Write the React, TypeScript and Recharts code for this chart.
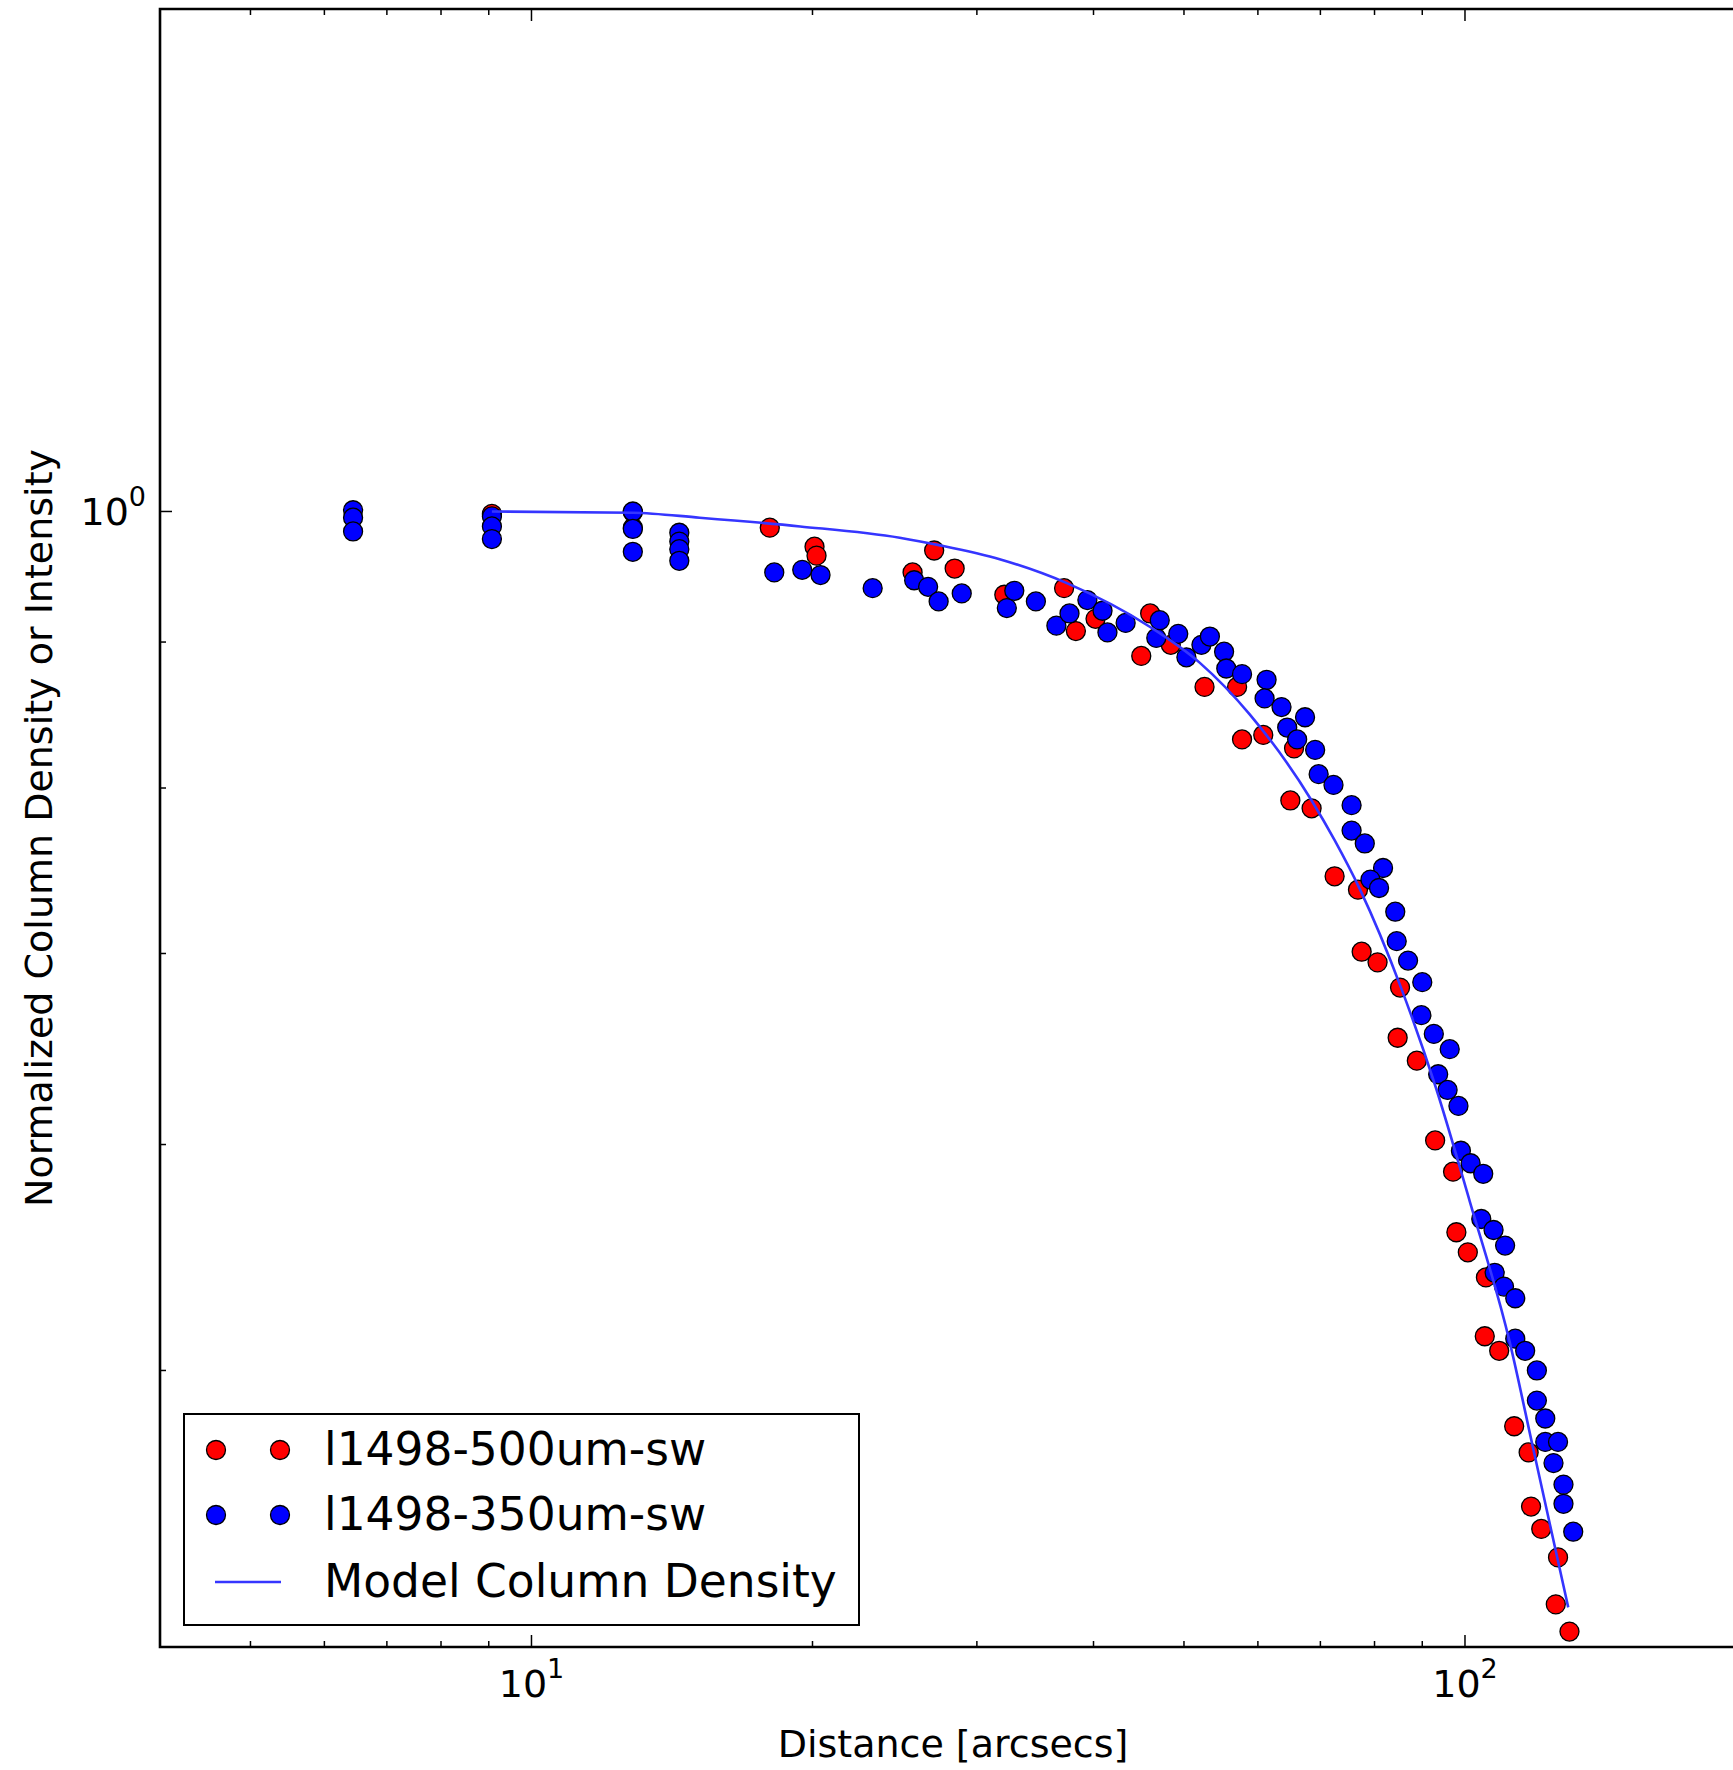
import { ScatterChart, Scatter, XAxis, YAxis, ReferenceArea, Legend } from 'recharts';

const RED_NAME = 'l1498-500um-sw';
const BLUE_NAME = 'l1498-350um-sw';
const MODEL_NAME = 'Model Column Density';

// distance [arcsec], normalized intensity
const red500 = [
  { x: 9.07, y: 0.998 }, { x: 12.84, y: 0.9995 }, { x: 12.84, y: 0.987 },
  { x: 18.0, y: 0.987 }, { x: 20.1, y: 0.972 }, { x: 20.2, y: 0.965 },
  { x: 25.6, y: 0.952 }, { x: 27.0, y: 0.969 }, { x: 28.4, y: 0.955 },
  { x: 32.1, y: 0.935 }, { x: 37.2, y: 0.94 }, { x: 38.3, y: 0.908 },
  { x: 40.2, y: 0.917 }, { x: 45.0, y: 0.89 }, { x: 46.0, y: 0.921 },
  { x: 48.4, y: 0.898 }, { x: 52.6, y: 0.868 }, { x: 57.0, y: 0.868 },
  { x: 57.7, y: 0.832 }, { x: 60.8, y: 0.835 }, { x: 65.6, y: 0.826 },
  { x: 65.0, y: 0.792 }, { x: 68.5, y: 0.787 }, { x: 72.5, y: 0.745 },
  { x: 76.8, y: 0.737 }, { x: 77.5, y: 0.701 }, { x: 80.6, y: 0.695 },
  { x: 85.2, y: 0.681 }, { x: 84.7, y: 0.654 }, { x: 88.8, y: 0.642 },
  { x: 92.9, y: 0.602 }, { x: 97.1, y: 0.587 }, { x: 97.9, y: 0.559 },
  { x: 100.7, y: 0.55 }, { x: 105.3, y: 0.539 }, { x: 105.0, y: 0.514 },
  { x: 108.8, y: 0.508 }, { x: 112.9, y: 0.478 }, { x: 117.0, y: 0.468 },
  { x: 117.7, y: 0.448 }, { x: 120.7, y: 0.44 }, { x: 125.8, y: 0.43 },
  { x: 125.1, y: 0.414 }, { x: 129.4, y: 0.405 },
];

const blue350 = [
  { x: 6.44, y: 1.001 }, { x: 6.44, y: 0.995 }, { x: 6.44, y: 0.984 },
  { x: 9.07, y: 0.996 }, { x: 9.07, y: 0.988 }, { x: 9.07, y: 0.978 },
  { x: 12.84, y: 1.0 }, { x: 12.84, y: 0.986 }, { x: 12.84, y: 0.968 },
  { x: 14.4, y: 0.983 }, { x: 14.4, y: 0.976 }, { x: 14.4, y: 0.97 }, { x: 14.4, y: 0.961 },
  { x: 18.2, y: 0.952 }, { x: 19.5, y: 0.954 }, { x: 20.4, y: 0.95 },
  { x: 23.2, y: 0.94 }, { x: 25.7, y: 0.946 }, { x: 26.6, y: 0.941 },
  { x: 27.3, y: 0.93 }, { x: 28.9, y: 0.936 }, { x: 32.3, y: 0.925 },
  { x: 32.9, y: 0.938 }, { x: 34.7, y: 0.93 }, { x: 36.5, y: 0.912 },
  { x: 37.7, y: 0.921 }, { x: 39.4, y: 0.931 }, { x: 40.9, y: 0.923 },
  { x: 41.4, y: 0.907 }, { x: 43.3, y: 0.914 }, { x: 46.7, y: 0.903 },
  { x: 47.1, y: 0.916 }, { x: 49.3, y: 0.906 }, { x: 50.3, y: 0.889 },
  { x: 52.2, y: 0.898 }, { x: 53.3, y: 0.904 }, { x: 55.2, y: 0.893 },
  { x: 55.5, y: 0.881 }, { x: 57.7, y: 0.877 }, { x: 61.3, y: 0.873 },
  { x: 61.0, y: 0.86 }, { x: 63.6, y: 0.854 }, { x: 64.5, y: 0.84 },
  { x: 67.4, y: 0.847 }, { x: 66.1, y: 0.832 }, { x: 69.1, y: 0.825 },
  { x: 69.7, y: 0.809 }, { x: 72.3, y: 0.802 }, { x: 75.6, y: 0.789 },
  { x: 75.6, y: 0.773 }, { x: 78.1, y: 0.765 }, { x: 81.7, y: 0.75 },
  { x: 79.2, y: 0.743 }, { x: 80.9, y: 0.738 }, { x: 84.2, y: 0.724 },
  { x: 84.5, y: 0.707 }, { x: 86.9, y: 0.696 }, { x: 90.0, y: 0.684 },
  { x: 89.8, y: 0.666 }, { x: 92.6, y: 0.656 }, { x: 96.3, y: 0.648 },
  { x: 93.6, y: 0.635 }, { x: 95.8, y: 0.627 }, { x: 98.4, y: 0.619 },
  { x: 99.0, y: 0.597 }, { x: 101.4, y: 0.591 }, { x: 104.6, y: 0.586 },
  { x: 104.1, y: 0.565 }, { x: 107.3, y: 0.56 }, { x: 110.4, y: 0.553 },
  { x: 107.6, y: 0.541 }, { x: 110.1, y: 0.535 }, { x: 113.2, y: 0.53 },
  { x: 113.2, y: 0.513 }, { x: 116.0, y: 0.508 }, { x: 119.4, y: 0.5 },
  { x: 119.4, y: 0.488 }, { x: 121.9, y: 0.481 }, { x: 121.9, y: 0.472 },
  { x: 125.8, y: 0.472 }, { x: 124.4, y: 0.464 }, { x: 127.5, y: 0.456 },
  { x: 127.5, y: 0.449 }, { x: 130.6, y: 0.439 },
];

const model = [
  { x: 9.07, y: 1.0 }, { x: 12.84, y: 0.999 }, { x: 15.14, y: 0.995 },
  { x: 19.4, y: 0.988 }, { x: 24.8, y: 0.979 }, { x: 27.4, y: 0.973 },
  { x: 31.8, y: 0.962 }, { x: 37.4, y: 0.944 }, { x: 46.0, y: 0.911 },
  { x: 52.0, y: 0.885 }, { x: 58.8, y: 0.849 }, { x: 68.5, y: 0.792 },
  { x: 72.5, y: 0.767 }, { x: 77.2, y: 0.737 }, { x: 85.4, y: 0.681 },
  { x: 93.1, y: 0.628 }, { x: 101.2, y: 0.573 }, { x: 111.6, y: 0.512 },
  { x: 118.4, y: 0.469 }, { x: 129.0, y: 0.413 },
];

const xTicks = [5, 6, 7, 8, 9, 10, 20, 30, 40, 50, 60, 70, 80, 90, 100];
const yTicks = [0.5, 0.6, 0.7, 0.8, 0.9, 1];

const FONT = '"DejaVu Sans", sans-serif';
const PLOT_TOP = 9;
const PLOT_RIGHT = 1746;

const isMajor = (v: number) => Math.abs(Math.log10(v) - Math.round(Math.log10(v))) < 1e-9;

function XTick({ x, y, payload }: any) {
  const v = payload.value;
  const major = isMajor(v);
  const len = major ? 12 : 6;
  return (
    <g>
      <line x1={x} x2={x} y1={y} y2={y - len} stroke="#000" strokeWidth={1.5} />
      <line x1={x} x2={x} y1={PLOT_TOP} y2={PLOT_TOP + len} stroke="#000" strokeWidth={1.5} />
      {major && (
        <text x={x} y={y + 50} textAnchor="middle" fontSize={38} fontFamily={FONT} fill="#000">
          10<tspan dy={-19} fontSize={27}>{Math.round(Math.log10(v))}</tspan>
        </text>
      )}
    </g>
  );
}

function YTick({ x, y, payload }: any) {
  const v = payload.value;
  const major = isMajor(v);
  const len = major ? 12 : 6;
  return (
    <g>
      <line x1={x} x2={x + len} y1={y} y2={y} stroke="#000" strokeWidth={1.5} />
      <line x1={PLOT_RIGHT} x2={PLOT_RIGHT - len} y1={y} y2={y} stroke="#000" strokeWidth={1.5} />
      {major && (
        <text x={x - 14} y={y + 14} textAnchor="end" fontSize={38} fontFamily={FONT} fill="#000">
          10<tspan dy={-19} fontSize={27}>{Math.round(Math.log10(v))}</tspan>
        </text>
      )}
    </g>
  );
}

const dot = (fill: string) => (props: any) => (
  <circle cx={props.cx} cy={props.cy} r={9.5} fill={fill} stroke="#000" strokeWidth={1.3} />
);

const legendItems = [
  { name: RED_NAME, color: '#ff0000', kind: 'dots' },
  { name: BLUE_NAME, color: '#0000ff', kind: 'dots' },
  { name: MODEL_NAME, color: '#3535ff', kind: 'line' },
];
const rowCenters = [34.5, 99.5, 166.5];

function LegendBox() {
  return (
    <div style={{ width: 677, height: 213, boxSizing: 'border-box', border: '2.5px solid #000', background: '#fff', position: 'relative', fontFamily: FONT }}>
      {legendItems.map((it, i) => (
        <div key={it.name} style={{ position: 'absolute', left: 0, top: rowCenters[i] - 33, height: 66, display: 'flex', alignItems: 'center' }}>
          <svg width={130} height={66} style={{ display: 'block' }}>
            {it.kind === 'line' ? (
              <line x1={30} x2={96} y1={33} y2={33} stroke={it.color} strokeWidth={2.6} />
            ) : (
              <>
                <circle cx={31} cy={33} r={9.5} fill={it.color} stroke="#000" strokeWidth={1.3} />
                <circle cx={95} cy={33} r={9.5} fill={it.color} stroke="#000" strokeWidth={1.3} />
              </>
            )}
          </svg>
          <span style={{ marginLeft: 9, fontSize: 45.5, color: '#000', lineHeight: 1, whiteSpace: 'nowrap' }}>{it.name}</span>
        </div>
      ))}
    </div>
  );
}

export default function App() {
  return (
    <div style={{ position: 'absolute', left: 0, top: 0, width: 1733, height: 1770, overflow: 'hidden', background: '#fff' }}>
      <ScatterChart width={1760} height={1770} margin={{ top: 9, right: 14, bottom: 3, left: 10 }}>
        <XAxis
          type="number"
          dataKey="x"
          scale="log"
          domain={[4, 200]}
          allowDataOverflow
          ticks={xTicks}
          interval={0}
          tick={XTick}
          tickLine={false}
          axisLine={false}
          tickSize={0}
          tickMargin={0}
          height={120}
          label={{
            content: () => (
              <text x={953} y={1757} textAnchor="middle" fontSize={38} fontFamily={FONT} fill="#000">
                Distance [arcsecs]
              </text>
            ),
          }}
        />
        <YAxis
          type="number"
          dataKey="y"
          scale="log"
          domain={[0.4, 1.5]}
          allowDataOverflow
          ticks={yTicks}
          interval={0}
          tick={YTick}
          tickLine={false}
          axisLine={false}
          tickSize={0}
          tickMargin={0}
          width={150}
          label={{
            content: () => (
              <text x={52} y={828} transform="rotate(-90, 52, 828)" textAnchor="middle" fontSize={38} fontFamily={FONT} fill="#000">
                Normalized Column Density or Intensity
              </text>
            ),
          }}
        />
        <ReferenceArea x1={4} x2={200} y1={0.4} y2={1.5} fill="none" fillOpacity={0} stroke="#000" strokeWidth={2.6} ifOverflow="visible" />
        <Scatter name={RED_NAME} data={red500} fill="#ff0000" shape={dot('#ff0000')} isAnimationActive={false} />
        <Scatter name={BLUE_NAME} data={blue350} fill="#0000ff" shape={dot('#0000ff')} isAnimationActive={false} />
        <Scatter
          name={MODEL_NAME}
          data={model}
          fill="#3535ff"
          legendType="line"
          shape={() => <g />}
          line={{ stroke: '#3535ff', strokeWidth: 2.6 }}
          lineType="joint"
          lineJointType="monotoneX"
          isAnimationActive={false}
        />
        <Legend
          layout="horizontal"
          verticalAlign="middle"
          align="center"
          content={() => <LegendBox />}
          wrapperStyle={{ left: 183, top: 1413, width: 677, height: 213 }}
        />
      </ScatterChart>
    </div>
  );
}
